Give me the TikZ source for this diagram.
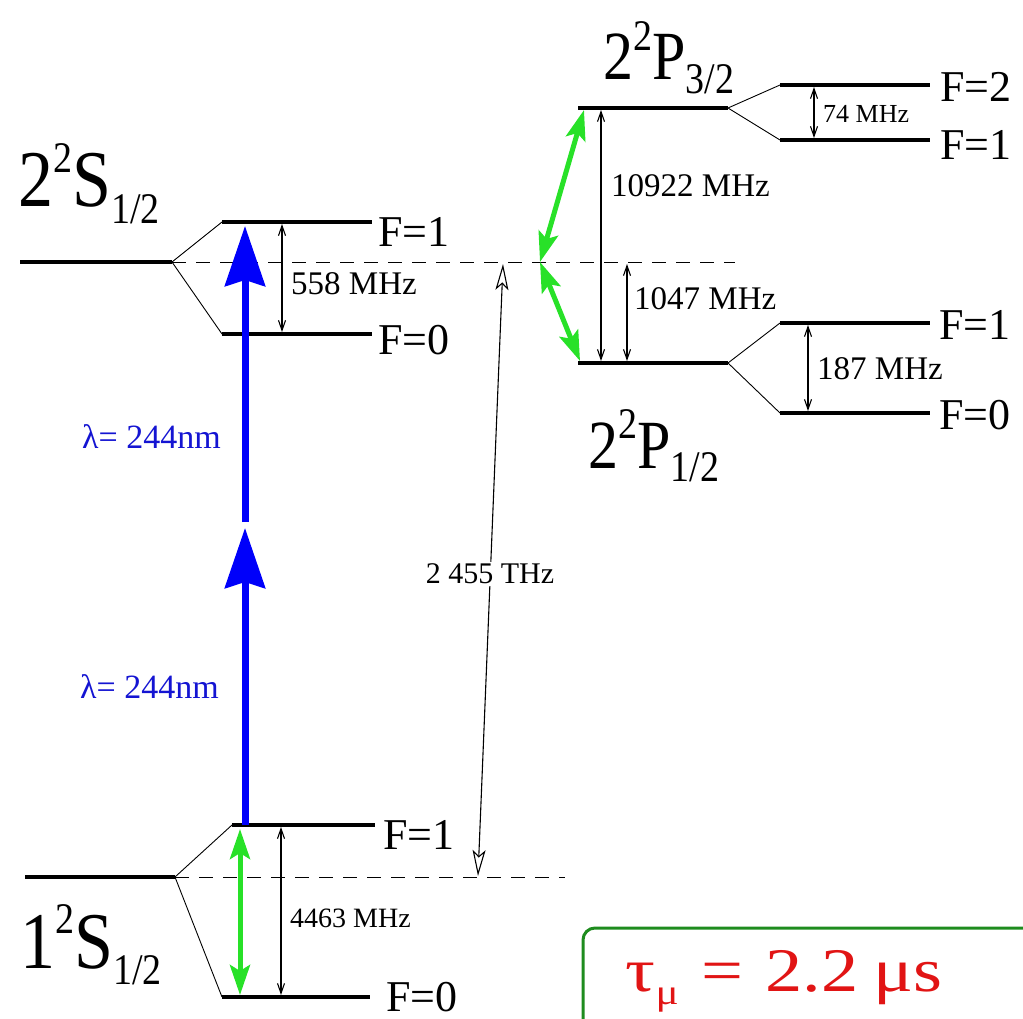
\documentclass[tikz,border=0pt]{standalone}
\usepackage{fontspec}
\setmainfont{Liberation Serif}
\usetikzlibrary{arrows.meta}
\definecolor{lgreen}{RGB}{40,225,40}
\definecolor{lblue}{RGB}{0,0,250}
\definecolor{tblue}{RGB}{20,20,210}
\definecolor{bgreen}{RGB}{30,140,30}
\definecolor{tred}{RGB}{225,20,20}
\newcommand\fsz[1]{\fontsize{#1}{#1}\selectfont}
% #1 base size, #2 script size, #3 n, #4 L, #5 J
\newcommand\termsym[5]{\scalebox{1}[1.15]{\fsz{#1}#3\raisebox{0.43em}{\fsz{#2}2}#4\raisebox{-0.2em}{\fsz{#2}#5}}}
\begin{document}
\begin{tikzpicture}[x=1pt,y=-1pt,
  level/.style={line width=4pt},
  splitline/.style={line width=0.9pt},
  dashline/.style={line width=0.9pt, dash pattern=on 14pt off 10pt},
  dimarrow/.style={line width=1.1pt, {Straight Barb[length=10pt,width=7pt]}-{Straight Barb[length=10pt,width=7pt]}},
  bigdim/.style={line width=1.1pt, {Stealth[open,length=26pt,width=13pt,inset=6pt]}-{Stealth[open,length=26pt,width=13pt,inset=6pt]}},
  greenarrow/.style={lgreen, line width=5pt, {Stealth[length=30pt,width=20pt,inset=6pt]}-{Stealth[length=30pt,width=20pt,inset=6pt]}},
  bluearrow/.style={lblue, line width=7pt, -{Stealth[length=60pt,width=40pt,inset=6pt]}},
  flabel/.style={anchor=west, inner sep=0pt, font=\fsz{44}},
  mhz/.style={anchor=west, inner sep=0pt, font=\fsz{33}},
  lam/.style={anchor=west, inner sep=0pt, font=\fsz{34}, text=tblue},
  term/.style={anchor=base west, inner sep=0pt}
]
\useasboundingbox (0,0) rectangle (1023,1019);
% ---- coordinates: 2S
\coordinate (sA) at (20,262); \coordinate (sB) at (172,262);
\coordinate (s1a) at (222,222); \coordinate (s1b) at (372,222);
\coordinate (s0a) at (222,334); \coordinate (s0b) at (372,334);
\coordinate (sD) at (735,262);
% 1S
\coordinate (gA) at (25,877); \coordinate (gB) at (175,877);
\coordinate (g1a) at (232,825); \coordinate (g1b) at (375,825);
\coordinate (g0a) at (222,997); \coordinate (g0b) at (370,997);
\coordinate (gD) at (565,877);
% 2P3/2
\coordinate (pA) at (578,108); \coordinate (pB) at (728,108);
\coordinate (p2a) at (780,85); \coordinate (p2b) at (930,85);
\coordinate (p1a) at (780,140); \coordinate (p1b) at (930,140);
% 2P1/2
\coordinate (qA) at (578,363); \coordinate (qB) at (728,363);
\coordinate (q1a) at (780,323); \coordinate (q1b) at (930,323);
\coordinate (q0a) at (780,413); \coordinate (q0b) at (930,413);
% arrow end points
\coordinate (d558a) at (282,224); \coordinate (d558b) at (282,332);
\coordinate (d4463a) at (281,827); \coordinate (d4463b) at (281,995);
\coordinate (d10922a) at (601,110); \coordinate (d10922b) at (601,361);
\coordinate (d1047a) at (627,264); \coordinate (d1047b) at (627,361);
\coordinate (d74a) at (814,87); \coordinate (d74b) at (814,138);
\coordinate (d187a) at (808,325); \coordinate (d187b) at (808,411);
\coordinate (tA) at (478,876); \coordinate (tB) at (503,264);
\coordinate (gm) at (540,262);
\coordinate (gu) at (584,110); \coordinate (gl) at (580,361);
\coordinate (gv1) at (240,829); \coordinate (gv0) at (240,995);
\coordinate (b0) at (245,825); \coordinate (bm) at (245,528);
\coordinate (bm2) at (245,522); \coordinate (b1) at (245,226);

% dashed reference lines
\draw[dashline] (sB) -- (sD);
\draw[dashline] (gB) -- (gD);
% levels
\draw[level] (sA) -- (sB);
\draw[level] (s1a) -- (s1b);
\draw[level] (s0a) -- (s0b);
\draw[level] (gA) -- (gB);
\draw[level] (g1a) -- (g1b);
\draw[level] (g0a) -- (g0b);
\draw[level] (pA) -- (pB);
\draw[level] (p2a) -- (p2b);
\draw[level] (p1a) -- (p1b);
\draw[level] (qA) -- (qB);
\draw[level] (q1a) -- (q1b);
\draw[level] (q0a) -- (q0b);
% splittings
\draw[splitline] (s1a) -- (sB) -- (s0a);
\draw[splitline] (g1a) -- (gB) -- (g0a);
\draw[splitline] (p2a) -- (pB) -- (p1a);
\draw[splitline] (q1a) -- (qB) -- (q0a);
% thin double arrows
\draw[dimarrow] (d558a) -- (d558b);
\draw[dimarrow] (d4463a) -- (d4463b);
\draw[dimarrow] (d10922a) -- (d10922b);
\draw[dimarrow] (d1047a) -- (d1047b);
\draw[dimarrow] (d74a) -- (d74b);
\draw[dimarrow] (d187a) -- (d187b);
\draw[bigdim] (tA) -- (tB);
% green transitions
\draw[greenarrow] (gv1) -- (gv0);
\draw[greenarrow] (gm) -- (gu);
\draw[greenarrow] (gm) -- (gl);
% blue two-photon excitation
\draw[bluearrow] (b0) -- (bm);
\draw[bluearrow] (bm2) -- (b1);

% labels
\node[flabel] (lS1) at (378,232) {F=1};
\node[flabel] (lS0) at (378,340) {F=0};
\node[flabel] (lG1) at (383,835) {F=1};
\node[flabel] (lG0) at (386,997) {F=0};
\node[flabel] (lP2) at (940,87) {F=2};
\node[flabel] (lP1) at (940,145) {F=1};
\node[flabel] (lQ1) at (939,325) {F=1};
\node[flabel] (lQ0) at (939,415) {F=0};

\node[mhz] (m558) at (291,284) {558 MHz};
\node[mhz, font=\fsz{28}] (m4463) at (290,918) {4463 MHz};
\node[mhz] (m10922) at (611,186) {10922 MHz};
\node[mhz] (m1047) at (634,299) {1047 MHz};
\node[mhz] (m187) at (817,369) {187 MHz};
\node[mhz, font=\fsz{26}] (m74) at (823,114) {74 MHz};
\node[inner sep=2pt, fill=white, font=\fsz{30}] (mTHz) at (490,574) {2 455 THz};

\node[lam] (lam1) at (82,437) {λ= 244nm};
\node[lam] (lam2) at (80,687) {λ= 244nm};

\node[term] (tS2) at (18,207) {\termsym{70}{38}{2}{S}{1/2}};
\node[term] (tS1) at (20,968) {\termsym{70}{38}{1}{S}{1/2}};
\node[term] (tP3) at (603,80) {\termsym{60}{38}{2}{P}{3/2}};
\node[term] (tP1) at (588,468) {\termsym{60}{38}{2}{P}{1/2}};

% lifetime box
\draw[bgreen, line width=3pt, rounded corners=12pt] (583,1040) |- (1040,928);
\node[inner sep=0pt, anchor=base, text=tred] (tau) at (784,991)
  {\scalebox{1.2}[1]{\fsz{62}τ\raisebox{-0.22em}{\fsz{36}μ}\hspace{0.3em}=\hspace{0.3em}2.2\hspace{0.2em}μs}};
\end{tikzpicture}
\end{document}
